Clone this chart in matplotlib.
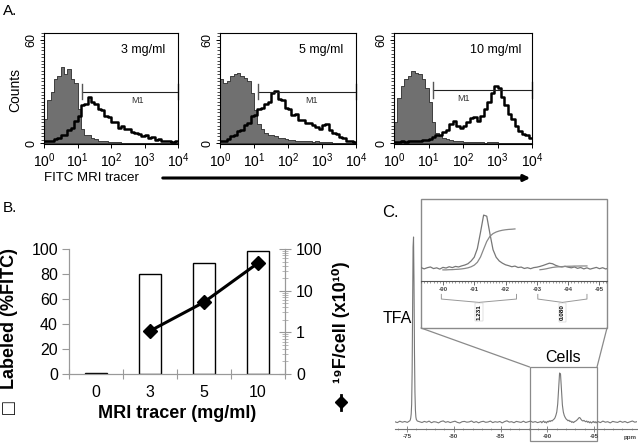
import numpy as np
import matplotlib.pyplot as plt
from matplotlib.patches import Rectangle, FancyArrowPatch, ConnectionPatch
from matplotlib.lines import Line2D
from matplotlib.ticker import MultipleLocator, NullFormatter, LogLocator

plt.rcParams['font.family'] = ['Liberation Sans', 'DejaVu Sans']
plt.rcParams['axes.unicode_minus'] = False

# ---- data: A. flow histograms (counts per 0.1-decade bin, 10^0..10^4)
conc_labels = ['3 mg/ml', '5 mg/ml', '10 mg/ml']
gray_ctrl = [
    [14, 25, 30, 37, 39, 44, 40, 43, 37, 35, 20, 8, 5, 4.5, 3, 2.5, 1.5, 1.2, 1, 0.6,
     0.8, 0.4, 0.5, 0.3, 0.2, 0.3, 0.1, 0, 0, 0, 0, 0, 0, 0, 0, 0, 0, 0, 0, 0],
    [37, 35, 36, 39, 40, 41, 39, 38, 36, 29, 19, 11, 8, 6, 5, 4.5, 4, 3, 3, 2.5,
     2, 2, 1.5, 1.5, 1.2, 1, 1.2, 0.8, 1, 0.6, 0.8, 0.5, 0.4, 0.3, 0.2, 0.2, 0, 0, 0, 0],
    [12, 26, 33, 37, 39, 42, 41, 40, 37, 32, 24, 12, 6, 4, 3, 2.5, 2, 1.5, 1, 1,
     0.8, 0.6, 0.5, 0.6, 0.4, 0.5, 0.3, 0.5, 0.4, 0.5, 0.3, 0.2, 0, 0, 0, 0, 0, 0, 0, 0],
]
black_tracer = [
    [1, 1.5, 1, 2.5, 3, 4.5, 5, 7.5, 9, 13, 16, 22, 23, 27, 24, 23, 20, 19, 16, 15,
     12, 12, 9, 10, 8, 8.5, 6.5, 6, 5.5, 4, 4.5, 3, 3.5, 2, 2.5, 1.5, 1, 1.5, 0.8, 1],
    [1, 1.5, 2.5, 4, 4.5, 7, 7.5, 10.5, 11.5, 15.5, 16.5, 20, 20.5, 23, 24, 29, 30.5, 25.5, 25, 20.5,
     20, 16.5, 17, 13.5, 13.5, 11.5, 11.5, 10.5, 9.5, 8.5, 10.5, 11, 7.5, 6, 5.5, 3.5, 3, 1.5, 1.2, 0.8],
    [0.5, 0.5, 1, 0.8, 1.2, 1, 1.5, 1.2, 2, 1.8, 2.5, 3.5, 5, 4.5, 6.5, 7.5, 11, 13, 10, 9,
     10, 12, 14.5, 15, 13, 16, 20, 24, 29, 33, 32, 27, 22, 17, 14, 10, 7, 5.5, 4.5, 3],
]
m1_start = [13.5, 13.2, 13.5]
m1_level = [30, 30, 31]
m1_text_x = [600, 500, 100]

# ---- data: B.
tracer_conc = ['0', '3', '5', '10']
labeled_pct = [0.8, 80, 89, 98]
f19_per_cell = [1.08, 5.3, 46]   # x10^10, for 3, 5, 10 mg/ml

# ---- data: C. 19F spectrum (ppm segments, intensity)
spec_ranges = [(-73.7, -75.3), (-75.35, -76.0), (-76.1, -89.2), (-89.3, -95.3), (-95.4, -99.6)]
spec_vals = [
    [0.3, -0.6, 0.8, -0.2, 0.5, -0.4, 1.2],
    [2, 4, 8, 18, 50, 115, 175, 185, 140, 70, 30, 12, 5, 2.5],
    [1.0, 0.2, -0.5, 0.6, -0.2, 0.9, -0.7, 0.3, 0.0, -0.9, 0.5, 1.1, -0.3, 0.4, -0.6, 0.2,
     0.8, -0.4, -1.0, 0.3, 0.6, -0.2, 0.1, 1.0, -0.5, 0.4, -0.8, 0.2, 0.7, -0.3, 0.0, 0.9,
     -0.6, 0.3, -0.2, 0.5, -0.9, 0.4, 1.2, -0.1, 0.3, -0.7, 0.6, 0.1, -0.4, 0.8, -0.5, 0.2,
     0.9, -0.3, 0.4, -0.6, 0.1],
    [0.5, -0.8, 0.3, 1.0, -0.5, 0.2, -1.0, 0.6, 0.0, 1.2, 0.4, 1.5, 1.0, 2.0, 2.8, 4.0,
     6.5, 10, 18, 33, 49, 48, 32, 17, 10, 6.5, 4.5, 3.0, 2.2, 1.2, 1.8, 0.5, 0.9, -0.4,
     0.3, -0.6, 0.4, 0.8, 1.5, 2.4, 3.5, 4.5, 4.0, 2.5, 1.5, 1.0, 1.6, 0.8, 0.2, 1.0,
     -0.3, 0.5, -0.8, 0.2, -1.0, -0.2, 0.6, -0.6, 0.3, -0.9, 0.1],
    [0.4, -0.6, 0.9, -0.2, 0.3, -0.9, 0.6, 0.0, -0.4, 0.8, -0.3, 0.5, -0.7, 0.2, 1.0, -0.2, 0.4],
]
integral_ranges = [(-89.95, -92.35), (-93.03, -94.6)]
integral_labels = ['1.231', '0.080']

W, H = 638, 444
fig = plt.figure(figsize=(W / 100, H / 100), dpi=100)


def box(l, t, r, b):
    return [l / W, 1 - b / H, (r - l) / W, (b - t) / H]


def pt(x, y):
    return (x / W, 1 - y / H)


# ================= A =================
fig.text(*pt(3, 11), 'A.', fontsize=11, va='center')
edges = 10 ** np.arange(0, 4.01, 0.1)
a_frames = [(44, 178), (220, 356), (394, 532)]
for i, (l, r) in enumerate(a_frames):
    ax = fig.add_axes(box(l, 33, r, 144))
    g = np.append(gray_ctrl[i], gray_ctrl[i][-1])
    b = np.append(black_tracer[i], black_tracer[i][-1])
    ax.fill_between(edges, g, step='post', facecolor='#707070', edgecolor='#2a2a2a', lw=0.6)
    ax.plot(edges, b, drawstyle='steps-post', color='black', lw=1.8)
    ax.set_xscale('log')
    ax.set_xlim(1, 1e4)
    ax.set_ylim(-0.5, 64)
    ax.xaxis.set_major_locator(LogLocator(base=10, numticks=10))
    ax.set_xticks([1, 10, 100, 1000, 10000])
    lvl = m1_level[i]
    ax.plot([m1_start[i], 1e4], [lvl, lvl], color='#222222', lw=0.8, clip_on=False)
    for xe in (m1_start[i], 1e4):
        ax.plot([xe, xe], [lvl - 4.5, lvl + 4.5], color='#555555', lw=1.0, clip_on=False)
    ax.text(m1_text_x[i], lvl - 5, 'M1', fontsize=6.5, ha='center', va='center', color='#333333')
    ax.text(0.74, 0.85, conc_labels[i], transform=ax.transAxes, fontsize=9, ha='center', va='center')
    ax.set_yticks([0, 60])
    ax.set_yticklabels(['0', '60'], rotation=90, va='center', fontsize=9)
    ax.yaxis.set_minor_locator(MultipleLocator(2))
    ax.tick_params(axis='x', labelsize=10, length=3, width=0.7, pad=2)
    ax.tick_params(axis='x', which='minor', length=2, width=0.5)
    ax.tick_params(axis='y', length=3, width=0.7, pad=2)
    ax.tick_params(axis='y', which='minor', length=2, width=0.5)
    for s in ax.spines.values():
        s.set_linewidth(0.8)

fig.text(*pt(15, 90), 'Counts', rotation=90, fontsize=10, ha='center', va='center')
fig.text(*pt(44, 178), 'FITC MRI tracer', fontsize=9.5, ha='left', va='center')
fig.add_artist(FancyArrowPatch(pt(160, 178), pt(533, 178), transform=fig.transFigure,
                               arrowstyle='-|>', mutation_scale=9, lw=2.2, color='black'))

# ================= B =================
fig.text(*pt(3, 208), 'B.', fontsize=11, va='center')
axb = fig.add_axes(box(69, 249, 285, 374))
xpos = np.arange(len(tracer_conc))
axb.bar(xpos, labeled_pct, width=0.42, facecolor='white', edgecolor='black', lw=1.0, zorder=2)
axb.set_xlim(-0.5, 3.5)
axb.set_ylim(0, 100)
axb.set_yticks(np.arange(0, 101, 20))
axb.set_xticks(np.arange(-0.5, 3.6, 1))
axb.xaxis.set_major_formatter(NullFormatter())
axb.set_xticks(xpos, minor=True)
axb.set_xticklabels(tracer_conc, minor=True)
axb.tick_params(axis='x', which='major', direction='inout', length=7, color='#999999', width=0.8)
axb.tick_params(axis='x', which='minor', length=0, labelsize=11.5, pad=8)
axb.tick_params(axis='y', length=5, color='#999999', width=0.8, labelsize=11.5, pad=3)
axb.spines['top'].set_visible(False)
for s in ('left', 'bottom', 'right'):
    axb.spines[s].set_color('#999999')

axr = axb.twinx()
axr.plot(xpos[1:], f19_per_cell, color='black', lw=2.2, marker='D', ms=7, zorder=3)
axr.set_yscale('log')
axr.set_ylim(0.1, 100)
axr.set_yticks([0.1, 1, 10, 100])
axr.set_yticklabels(['0', '1', '10', '100'])
axr.tick_params(axis='y', which='major', direction='inout', length=8, color='#999999', width=0.8,
                labelsize=11.5, pad=4)
axr.tick_params(axis='y', which='minor', direction='inout', length=4, color='#aaaaaa', width=0.6)
axr.yaxis.set_minor_formatter(NullFormatter())
axr.spines['top'].set_visible(False)
for s in ('left', 'bottom', 'right'):
    axr.spines[s].set_color('#999999')

fig.text(*pt(10, 318), 'Labeled (%FITC)', rotation=90, fontsize=13, fontweight='bold',
         ha='center', va='center')
fig.text(*pt(10, 408), '\u25a1', rotation=90, fontsize=15, ha='center', va='center')
fig.text(*pt(177, 413), 'MRI tracer (mg/ml)', fontsize=13, fontweight='bold', ha='center', va='center')
fig.text(*pt(341, 322), '\u00b9\u2079F/cell (x10\u00b9\u2070)', rotation=90, fontsize=13,
         fontweight='bold', ha='center', va='center')
fig.add_artist(Line2D([341 / W, 341 / W], [1 - 395 / H, 1 - 410 / H], color='black', lw=2))
fig.add_artist(Line2D([341 / W], [1 - 402 / H], color='black', marker='D', ms=6))

# ================= C =================
ppm = np.concatenate([np.linspace(a, b, len(v)) for (a, b), v in zip(spec_ranges, spec_vals)])
inten = np.concatenate([np.array(v, float) for v in spec_vals])
gcol = '#8a8a8a'

fig.text(*pt(382, 212), 'C.', fontsize=12, va='center')
axc = fig.add_axes(box(395, 229, 637, 429))
axc.patch.set_alpha(0)
axc.plot(ppm, inten, color='#777777', lw=0.8)
axc.set_xlim(-73.72, -99.57)
axc.set_ylim(-7, 193)
for s in ('top', 'left', 'right'):
    axc.spines[s].set_visible(False)
axc.spines['bottom'].set_color('#777777')
axc.set_yticks([])
axc.xaxis.set_major_locator(MultipleLocator(5))
axc.xaxis.set_minor_locator(MultipleLocator(1))
axc.xaxis.set_major_formatter(lambda v, p: '%d' % v)
axc.tick_params(axis='x', which='major', direction='inout', length=4, width=0.6, color='#777777',
                labelsize=4.5, labelcolor='#444444', pad=1.5)
axc.tick_params(axis='x', which='minor', direction='inout', length=2, width=0.4, color='#777777')
for lab in axc.get_xticklabels():
    lab.set_fontweight('bold')
axc.text(-98.8, -15, 'ppm', fontsize=4.5, fontweight='bold', color='#444444', ha='center',
         va='center', clip_on=False)
axc.add_patch(Rectangle((-88.1, -19), -7.2, 74, fill=False, edgecolor=gcol, lw=0.9, clip_on=False))
fig.text(*pt(397, 318), 'TFA', fontsize=11.5, ha='center', va='center')
fig.text(*pt(563, 357), 'Cells', fontsize=11.5, ha='center', va='center')

# inset
axi = fig.add_axes(box(421, 199, 607, 328))
axi.plot(ppm, inten, color='#777777', lw=0.9)
axi.set_xlim(-89.3, -95.24)
axi.set_ylim(-55.5, 63.9)
for s in ('top', 'left', 'right'):
    axi.spines[s].set_visible(False)
axi.spines['bottom'].set_position(('data', -12))
axi.spines['bottom'].set_color('#555555')
axi.set_yticks([])
axi.xaxis.set_major_locator(MultipleLocator(1))
axi.xaxis.set_minor_locator(MultipleLocator(0.1))
axi.xaxis.set_major_formatter(lambda v, p: '%d' % round(v))
axi.tick_params(axis='x', which='major', length=3, width=0.6, color='#555555',
                labelsize=4.5, labelcolor='#444444', pad=1.5)
axi.tick_params(axis='x', which='minor', length=1.5, width=0.4, color='#555555')
for lab in axi.get_xticklabels():
    lab.set_fontweight('bold')
axi.add_patch(Rectangle((0, 0), 1, 1, transform=axi.transAxes, fill=False, edgecolor=gcol,
                        lw=1.0, clip_on=False))

scale = None
for (a, b), lab in zip(integral_ranges, integral_labels):
    sel = (ppm <= a) & (ppm >= b)
    cum = np.cumsum(np.clip(inten[sel], 0, None))
    if scale is None:
        scale = 38.0 / cum[-1]
    axi.plot(ppm[sel], -1.8 + cum * scale, color='#888888', lw=0.9)
    m = (a + b) / 2
    axi.plot([a, a, m, b, b], [-24.4, -28.7, -31.8, -28.7, -24.4], color='#999999', lw=0.7)
    axi.plot([m, m], [-31.8, -33], color='#999999', lw=0.7)
    axi.text(m, -41, lab, rotation=90, fontsize=4.5, fontweight='bold', ha='center', va='center',
             bbox=dict(boxstyle='square,pad=0.2', facecolor='white', edgecolor='#bbbbbb', lw=0.3))

for xa, xb in (((-88.1, 55), (0, 0)), ((-95.3, 55), (1, 0))):
    fig.add_artist(ConnectionPatch(xyA=xa, coordsA=axc.transData, xyB=xb, coordsB=axi.transAxes,
                                   color=gcol, lw=0.9))

fig.savefig('out.png', dpi=100)
